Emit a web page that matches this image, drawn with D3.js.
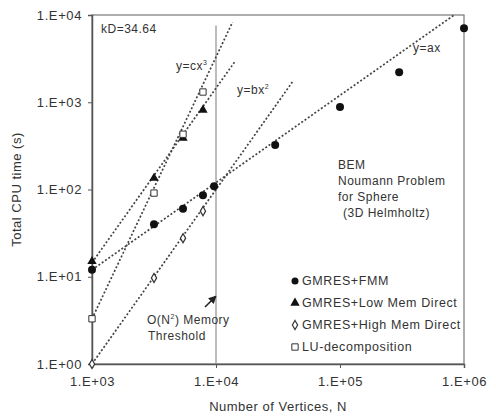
<!DOCTYPE html>
<html>
<head>
<meta charset="utf-8">
<script src="https://cdn.jsdelivr.net/npm/d3@7"></script>
<style>
  body { margin: 0; background: #fff; }
  text { font-family: "Liberation Sans", Arial, sans-serif; fill: #333; }
</style>
</head>
<body>
<div id="chart"></div>
<script>
// measured points (N, CPU seconds)
const fmmN = [1000, 3162, 5420, 7850, 9650, 30000, 100000, 300000, 1000000];
const fmmT = [12, 40, 60, 86, 109, 323, 880, 2210, 7050];
const lowN = [1000, 3162, 5420, 7850];
const lowT = [15, 135, 388, 815];
const highN = [1000, 3162, 5420, 7850];
const highT = [1.0, 9.7, 27.7, 56.5];
const luN = [1000, 3162, 5420, 7850];
const luT = [3.3, 91, 430, 1310];

// power-law guide lines y = coef * N^power, drawn from N=1e3 to nEnd
const fitCoef = [0.012, 3.3e-9, 1.45e-5, 1e-6];
const fitPower = [1, 3, 2, 2];
const fitEnd = [8.33e5, 1.36e4, 1.42e4, 4.23e4];

const xTicks = [1e3, 1e4, 1e5, 1e6];
const yTicks = [1, 10, 100, 1000, 10000];
const legendNames = ["GMRES+FMM", "GMRES+Low Mem Direct", "GMRES+High Mem Direct", "LU-decomposition"];

const width = 496, height = 419;
const margin = { left: 92, top: 15, right: 32, bottom: 55 };

const svg = d3.select("#chart").append("svg")
  .attr("width", width).attr("height", height);

const x = d3.scaleLog().domain([1e3, 1e6]).range([margin.left, width - margin.right]);
const y = d3.scaleLog().domain([1, 1e4]).range([height - margin.bottom, margin.top]);

const fmt = (d) => "1.E+0" + Math.round(Math.log10(d));

// frame
svg.append("rect")
  .attr("x", x(1e3)).attr("y", y(1e4))
  .attr("width", x(1e6) - x(1e3)).attr("height", y(1) - y(1e4))
  .attr("fill", "none").attr("stroke", "#777").attr("stroke-width", 1.2);

// threshold line at N = 1e4
svg.append("line")
  .attr("x1", x(1e4)).attr("x2", x(1e4))
  .attr("y1", y(1)).attr("y2", y(7600))
  .attr("stroke", "#999").attr("stroke-width", 1.3);

const xAxis = svg.append("g")
  .attr("transform", `translate(0,${y(1)})`)
  .call(d3.axisBottom(x).tickValues(xTicks).tickFormat(fmt).tickSize(4).tickPadding(9));
const yAxis = svg.append("g")
  .attr("transform", `translate(${x(1e3)},0)`)
  .call(d3.axisLeft(y).tickValues(yTicks).tickFormat(fmt).tickSize(4).tickPadding(6));
[xAxis, yAxis].forEach((g) => {
  g.select(".domain").attr("stroke", "#555").attr("stroke-width", 1.5);
  g.selectAll(".tick line").attr("stroke", "#555");
  g.selectAll(".tick text").attr("font-size", 13).attr("fill", "#333")
    .style("letter-spacing", "0.6px")
    .style("font-family", "'Liberation Sans', Arial, sans-serif");
});

// guide lines
const line = d3.line().x((d) => x(d[0])).y((d) => y(d[1]));
fitCoef.forEach((c, i) => {
  const pts = d3.range(0, 41).map((k) => {
    const n = Math.pow(10, 3 + (Math.log10(fitEnd[i]) - 3) * k / 40);
    return [n, c * Math.pow(n, fitPower[i])];
  });
  svg.append("path").attr("d", line(pts))
    .attr("fill", "none").attr("stroke", "#444")
    .attr("stroke-width", 1.7).attr("stroke-dasharray", "2,2");
});

// markers
const tri = d3.symbol().type(d3.symbolTriangle).size(38);
const sq = d3.symbol().type(d3.symbolSquare).size(40);
const dia = d3.symbol().type(d3.symbolDiamond).size(24);

svg.append("g").selectAll("circle").data(fmmN).join("circle")
  .attr("cx", (d) => x(d)).attr("cy", (d, i) => y(fmmT[i])).attr("r", 4).attr("fill", "#111");
svg.append("g").selectAll("path").data(lowN).join("path")
  .attr("d", tri).attr("transform", (d, i) => `translate(${x(d)},${y(lowT[i])})`).attr("fill", "#111");
svg.append("g").selectAll("path").data(highN).join("path")
  .attr("d", dia).attr("transform", (d, i) => `translate(${x(d)},${y(highT[i])})`)
  .attr("fill", "#fff").attr("stroke", "#333").attr("stroke-width", 1.2);
svg.append("g").selectAll("path").data(luN).join("path")
  .attr("d", sq).attr("transform", (d, i) => `translate(${x(d)},${y(luT[i])})`)
  .attr("fill", "#fff").attr("stroke", "#333").attr("stroke-width", 1);

// axis titles
svg.append("text").attr("x", x(31623)).attr("y", 411).attr("text-anchor", "middle")
  .attr("font-size", 13).style("letter-spacing", "0.5px").text("Number of Vertices, N");
svg.append("text").attr("transform", `translate(21,${y(100)})rotate(-90)`)
  .attr("text-anchor", "middle").attr("font-size", 13).style("letter-spacing", "0.5px")
  .text("Total CPU time (s)");

// annotations
const ann = svg.append("g").attr("font-size", 12).style("letter-spacing", "0.5px");
ann.append("text").attr("x", 101).attr("y", 33).text("kD=34.64");
const t1 = ann.append("text").attr("x", 176).attr("y", 70).text("y=cx");
t1.append("tspan").attr("dy", -5).attr("font-size", 7).text("3");
const t2 = ann.append("text").attr("x", 237).attr("y", 94).text("y=bx");
t2.append("tspan").attr("dy", -5).attr("font-size", 7).text("2");
ann.append("text").attr("x", 413).attr("y", 52).text("y=ax");

["BEM", "Noumann Problem", "for Sphere", "(3D Helmholtz)"].forEach((s, i) => {
  ann.append("text").attr("x", s.startsWith("(") ? 343 : 338).attr("y", 169 + i * 16).text(s);
});

const t3 = ann.append("text").attr("x", 147).attr("y", 324).text("O(N");
t3.append("tspan").attr("dy", -5).attr("font-size", 7).text("2");
t3.append("tspan").attr("dy", 5).text(") Memory");
ann.append("text").attr("x", 148).attr("y", 340).text("Threshold");

// arrow
svg.append("defs").append("marker").attr("id", "ah")
  .attr("viewBox", "0 0 10 10").attr("refX", 8).attr("refY", 5)
  .attr("markerWidth", 5).attr("markerHeight", 5).attr("orient", "auto")
  .append("path").attr("d", "M0,0L10,5L0,10z").attr("fill", "#222");
svg.append("line")
  .attr("x1", x(8150)).attr("y1", y(4.5)).attr("x2", x(9900)).attr("y2", y(5.9))
  .attr("stroke", "#222").attr("stroke-width", 1.6).attr("marker-end", "url(#ah)");

// legend
const lg = svg.append("g").attr("font-size", 12.5).style("letter-spacing", "0.6px");
legendNames.forEach((name, i) => {
  const ly = 281 + i * 22;
  const lx = 295;
  if (i === 0) lg.append("circle").attr("cx", lx).attr("cy", ly).attr("r", 3.5).attr("fill", "#111");
  if (i === 1) lg.append("path").attr("d", tri).attr("transform", `translate(${lx},${ly})`).attr("fill", "#111");
  if (i === 2) lg.append("path").attr("d", dia).attr("transform", `translate(${lx},${ly})`)
    .attr("fill", "#fff").attr("stroke", "#333").attr("stroke-width", 1.2);
  if (i === 3) lg.append("path").attr("d", sq).attr("transform", `translate(${lx},${ly})`)
    .attr("fill", "#fff").attr("stroke", "#333");
  lg.append("text").attr("x", lx + 7).attr("y", ly + 4).text(name);
});
</script>
</body>
</html>
